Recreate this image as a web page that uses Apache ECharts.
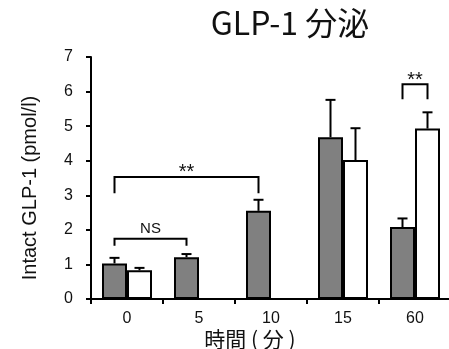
<!DOCTYPE html>
<html><head><meta charset="utf-8">
<script src="https://cdn.jsdelivr.net/npm/echarts@6/dist/echarts.min.js"></script>
<style>html,body{margin:0;padding:0;background:#fff}#c{width:449px;height:349px}</style>
</head><body><div id="c"></div>
<script>
const categories = ['0', '5', '10', '15', '60'];
const grayValues = [1.03, 1.21, 2.55, 4.68, 2.08];
const grayErrors = [0.16, 0.09, 0.32, 1.08, 0.25];
const whiteValues = [0.83, null, null, 4.02, 4.93];
const whiteErrors = [0.07, null, null, 0.92, 0.47];
const yTicks = [0, 1, 2, 3, 4, 5, 6, 7];
// brackets: [startCat, startSeries, endCat, endSeries, lineValue, dropValue, label]
const brackets = [
  [0, 0, 1, 0, 1.74, 1.54, 'NS'],
  [0, 0, 2, 0, 3.53, 3.06, '**'],
  [4, 0, 4, 1, 6.21, 5.78, '**']
];

const BW = 25;
const chart = echarts.init(document.getElementById('c'));

function errData(vals, errs) {
  const out = [];
  vals.forEach((v, i) => { if (v != null) out.push([i, v, v + errs[i]]); });
  return out;
}
function errRender(offset) {
  return function (params, api) {
    const base = api.coord([api.value(0), api.value(1)]);
    const top = api.coord([api.value(0), api.value(2)]);
    const x = base[0] + offset;
    return {
      type: 'group',
      children: [
        { type: 'line', shape: { x1: x, y1: base[1], x2: x, y2: top[1] }, style: { stroke: '#000', lineWidth: 2 } },
        { type: 'line', shape: { x1: x - 5, y1: top[1], x2: x + 5, y2: top[1] }, style: { stroke: '#000', lineWidth: 2 } }
      ]
    };
  };
}
const offsets = [-BW / 2, BW / 2];

chart.setOption({
  animation: false,
  title: [{
    text: 'GLP-1 分泌', left: 285, top: 2, textAlign: 'center',
    textStyle: { fontFamily: 'Noto Sans CJK JP', fontSize: 32, fontWeight: 'normal', color: '#111' }
  }, {
    text: '時間 ( 分 )', left: 250, top: 329, textAlign: 'center', padding: 0,
    textStyle: { fontFamily: 'Noto Sans CJK JP', fontSize: 21, fontWeight: 'normal', color: '#111' }
  }],
  grid: { left: 91, right: -2, top: 57, bottom: 50, containLabel: false, outerBoundsMode: 'none' },
  xAxis: {
    type: 'category', data: categories,
    axisLine: { lineStyle: { color: '#000', width: 2 } },
    axisTick: { show: true, inside: false, length: 5, alignWithLabel: false, lineStyle: { color: '#000', width: 2 } },
    axisLabel: { fontFamily: 'Liberation Sans', fontSize: 16, color: '#111', margin: 12 }
  },
  yAxis: {
    type: 'value', min: yTicks[0], max: yTicks[yTicks.length - 1], interval: 1,
    name: 'Intact GLP-1 (pmol/l)', nameLocation: 'middle', nameGap: 51, nameRotate: 90,
    nameTextStyle: { fontFamily: 'Liberation Sans', fontSize: 20, color: '#111', padding: [0, 20, 0, 0] },
    splitLine: { show: false },
    axisLine: { show: true, lineStyle: { color: '#000', width: 2 } },
    axisTick: { show: true, length: 5, lineStyle: { color: '#000', width: 2 } },
    axisLabel: { fontFamily: 'Liberation Sans', fontSize: 16, color: '#111', margin: 18 }
  },
  series: [
    { type: 'bar', data: grayValues, barWidth: BW, barGap: '0%',
      itemStyle: { color: '#808080', borderColor: '#000', borderWidth: 2 } },
    { type: 'bar', data: whiteValues, barWidth: BW, barGap: '0%',
      itemStyle: { color: '#fff', borderColor: '#000', borderWidth: 2 } },
    { type: 'custom', data: errData(grayValues, grayErrors), renderItem: errRender(-BW / 2), clip: false, z: 1 },
    { type: 'custom', data: errData(whiteValues, whiteErrors), renderItem: errRender(BW / 2), clip: false, z: 1 },
    { type: 'custom', data: brackets, clip: false,
      renderItem: function (params, api) {
        const b = brackets[params.dataIndex];
        const p1 = api.coord([b[0], b[4]]);
        const p2 = api.coord([b[2], b[4]]);
        const d = api.coord([b[0], b[5]]);
        const x1 = p1[0] + offsets[b[1]];
        const x2 = p2[0] + offsets[b[3]];
        const y = p1[1], yd = d[1];
        const isNS = b[6] === 'NS';
        return {
          type: 'group',
          children: [
            { type: 'polyline', shape: { points: [[x1, yd], [x1, y], [x2, y], [x2, yd]] },
              style: { stroke: '#000', lineWidth: 2, fill: null } },
            { type: 'text', style: { text: b[6], x: (x1 + x2) / 2, y: isNS ? y - 10 : y - 4,
              align: 'center', verticalAlign: 'middle',
              font: (isNS ? '15px' : '20px') + ' "Liberation Sans"', fill: '#111' } }
          ]
        };
      } }
  ]
});
</script></body></html>
